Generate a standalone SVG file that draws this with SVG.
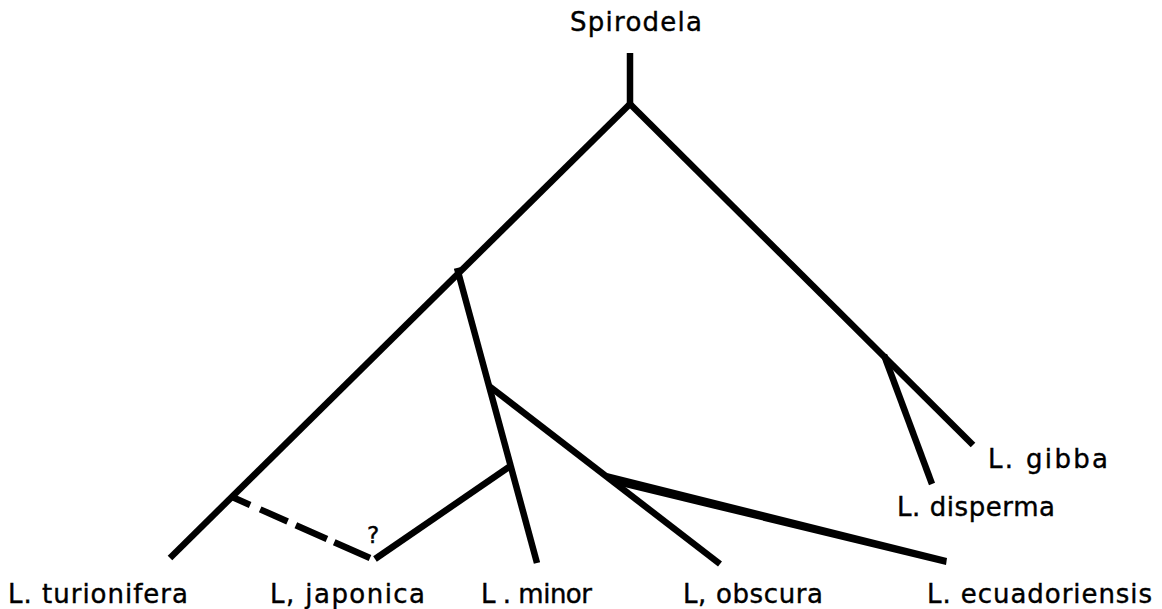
<svg xmlns="http://www.w3.org/2000/svg" width="1162" height="609" viewBox="0 0 1162 609">
<style>
.ln{stroke:#000;stroke-width:6.5;fill:none;stroke-linecap:butt;stroke-linejoin:miter}
.lbl{font-family:"DejaVu Sans","Liberation Sans",sans-serif;font-size:26px;fill:#000;stroke:#000;stroke-width:0.4}
</style>
<rect width="1162" height="609" fill="#fff"/>
<g id="connectors">
<line class="ln" x1="630" y1="53" x2="630" y2="104"/>
<line class="ln" x1="632" y1="102" x2="170" y2="558"/>
<line class="ln" x1="628" y1="102" x2="973" y2="445"/>
<line class="ln" x1="884" y1="355" x2="932" y2="484"/>
<line class="ln" x1="457" y1="268" x2="537" y2="563"/>
<line class="ln" x1="489" y1="386" x2="720" y2="564"/>
<polygon points="607,473 947,558 946,565 612,484" fill="#000"/>
<line class="ln" x1="375" y1="559" x2="509" y2="467"/>
<line class="ln" x1="230" y1="496" x2="370" y2="558" stroke-dasharray="22 11 30 9 34 8 45"/>
</g>
<g id="node-spirodela"><text class="lbl" x="570" y="31" textLength="132" lengthAdjust="spacing">Spirodela</text></g>
<g id="node-turionifera"><text class="lbl" x="8" y="603" textLength="180" lengthAdjust="spacing">L. turionifera</text></g>
<g id="node-japonica"><text class="lbl" x="270" y="603" textLength="155" lengthAdjust="spacing">L, japonica</text><text class="lbl" x="373" y="543" text-anchor="middle" style="font-size:23px">?</text></g>
<g id="node-minor"><text class="lbl" x="481" y="603" textLength="111" lengthAdjust="spacing">L . minor</text></g>
<g id="node-obscura"><text class="lbl" x="683" y="603" textLength="140" lengthAdjust="spacing">L, obscura</text></g>
<g id="node-ecuadoriensis"><text class="lbl" x="927" y="603" textLength="225" lengthAdjust="spacing">L. ecuadoriensis</text></g>
<g id="node-disperma"><text class="lbl" x="897" y="516" textLength="158" lengthAdjust="spacing">L. disperma</text></g>
<g id="node-gibba"><text class="lbl" x="988" y="468" textLength="120" lengthAdjust="spacing">L. gibba</text></g>
</svg>
